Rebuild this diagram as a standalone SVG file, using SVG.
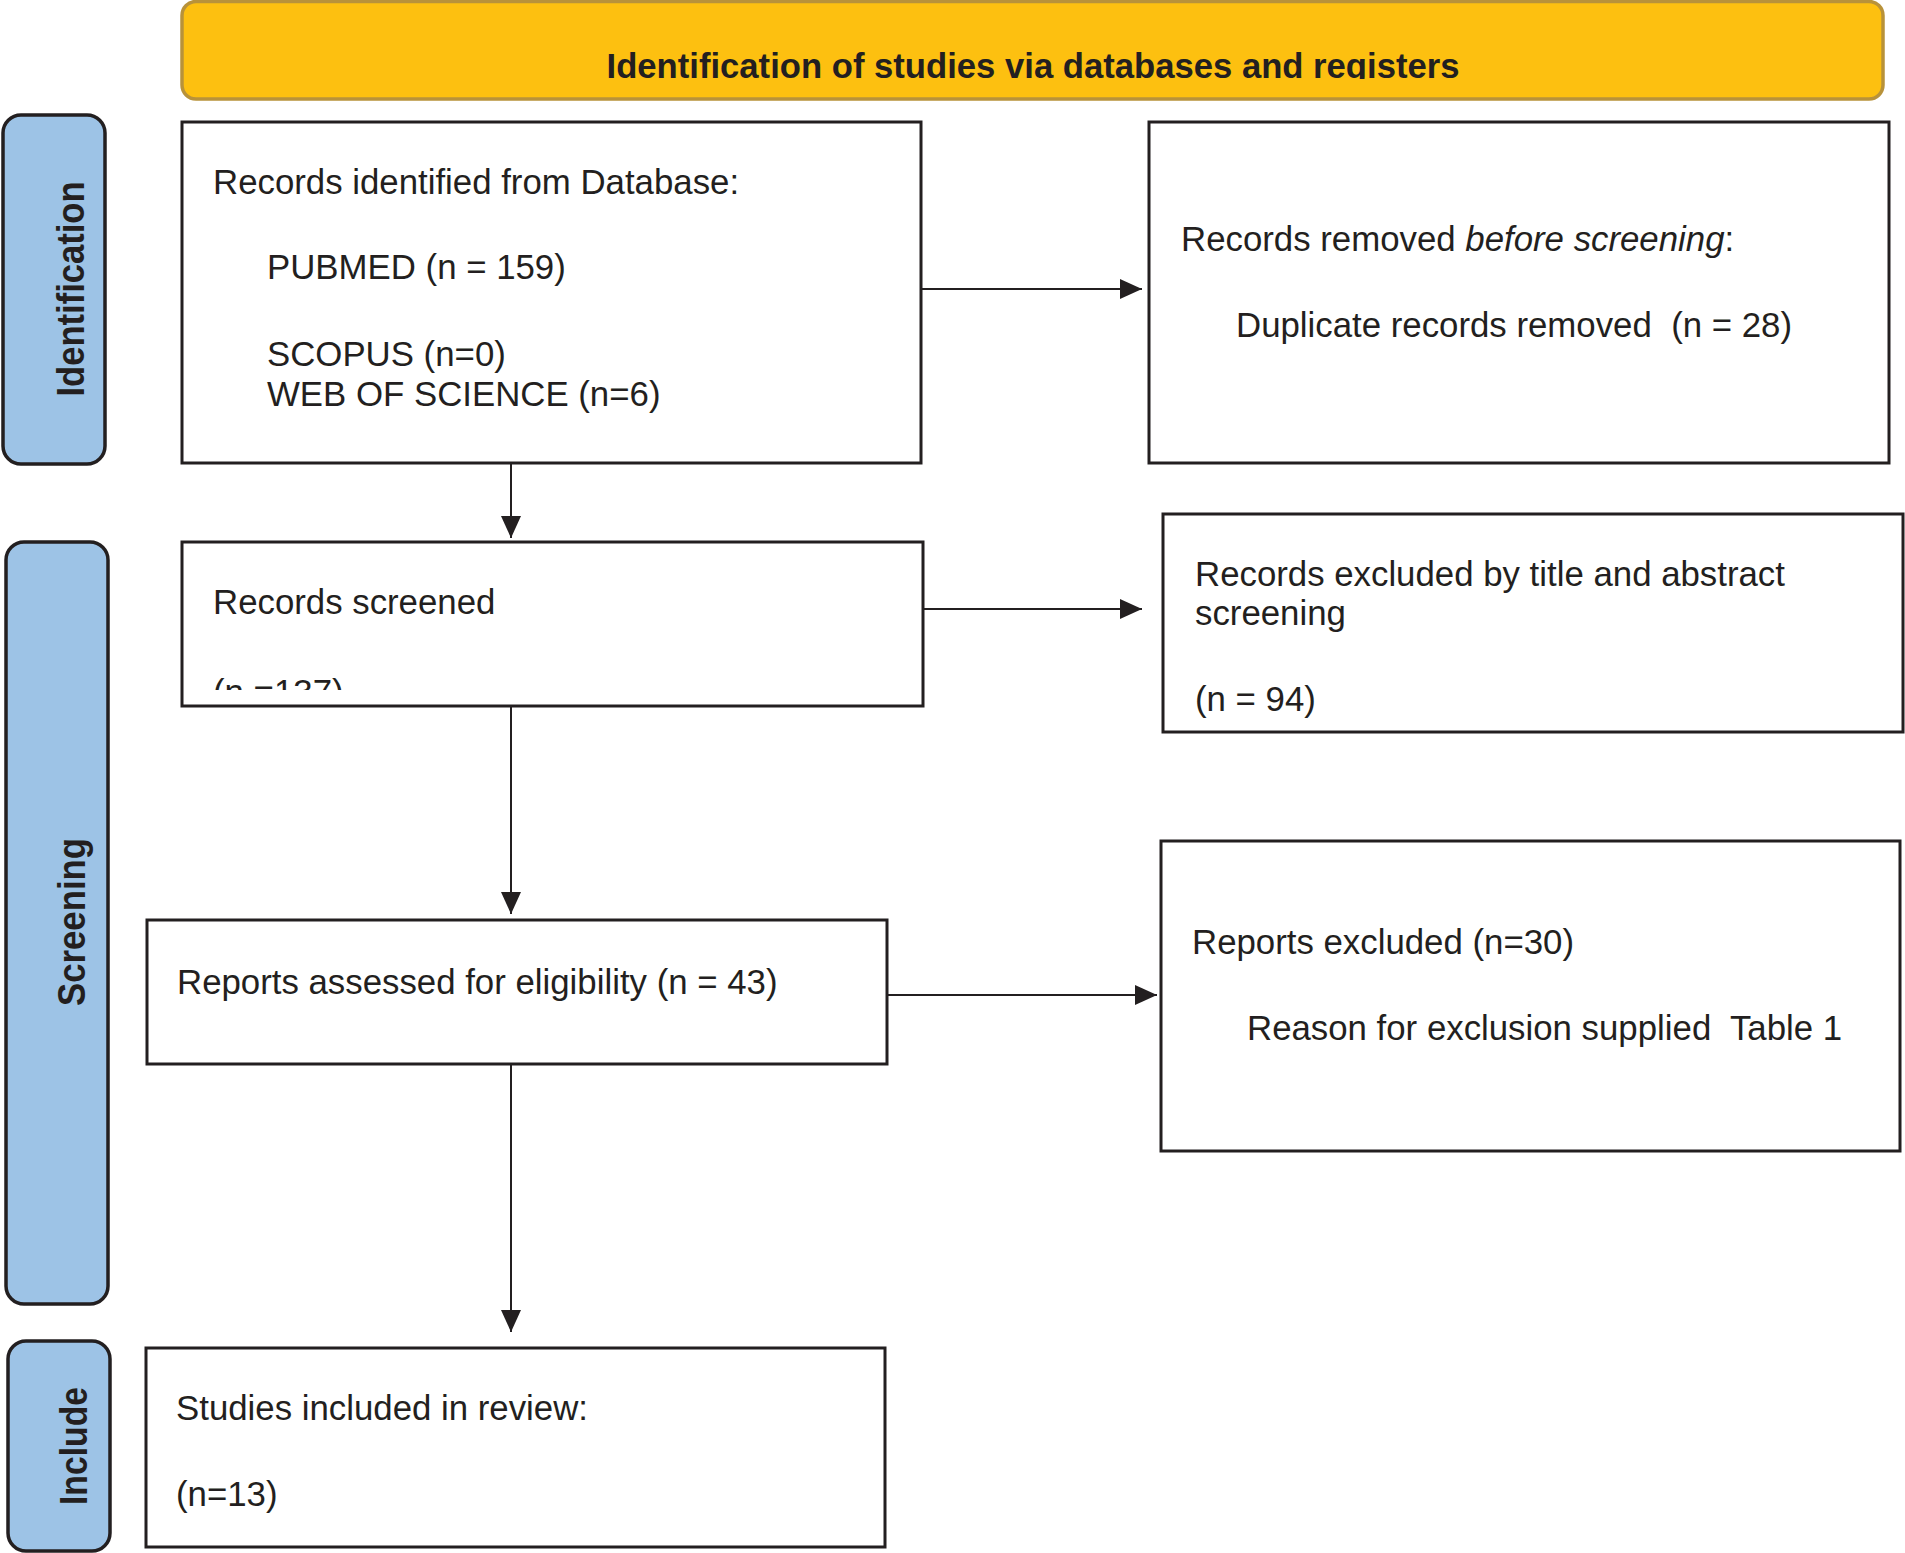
<svg xmlns="http://www.w3.org/2000/svg" width="1905" height="1553" viewBox="0 0 1905 1553">
<style>
.box{fill:#fff;stroke:#231f20;stroke-width:3}
.side{fill:#9dc3e6;stroke:#231f20;stroke-width:3.5}
.t{font-family:"Liberation Sans",Arial,sans-serif;font-size:34.8px;fill:#231f20}
.st{font-family:"Liberation Sans",Arial,sans-serif;font-size:39px;font-weight:bold;fill:#231f20}
.conn{stroke:#231f20;stroke-width:2;fill:none}
</style>
<defs>
<marker id="ah" markerUnits="userSpaceOnUse" markerWidth="24" markerHeight="22" refX="22" refY="10" orient="auto">
<path d="M0,0 L22,10 L0,20 z" fill="#231f20"/>
</marker>
<clipPath id="clipTitle"><rect x="0" y="0" width="1905" height="79"/></clipPath>
<clipPath id="clipScr"><rect x="0" y="540" width="1905" height="150"/></clipPath>
</defs>
<rect width="1905" height="1553" fill="#fff"/>

<g id="banner">
<rect x="182" y="1.5" width="1701" height="97.5" rx="14" fill="#fdc010" stroke="#b8923a" stroke-width="3.5"/>
<text x="1033" y="78" text-anchor="middle" clip-path="url(#clipTitle)" font-family="'Liberation Sans',Arial,sans-serif" font-size="34.5" font-weight="bold" fill="#231f20" textLength="853" lengthAdjust="spacingAndGlyphs">Identification of studies via databases and registers</text>
</g>

<g id="side-identification">
<rect class="side" x="3" y="115" width="102" height="349" rx="18"/>
<text class="st" transform="translate(84,289) rotate(-90)" text-anchor="middle" textLength="215" lengthAdjust="spacingAndGlyphs">Identification</text>
</g>
<g id="side-screening">
<rect class="side" x="6" y="542" width="102" height="762" rx="18"/>
<text class="st" transform="translate(85,922) rotate(-90)" text-anchor="middle" textLength="168" lengthAdjust="spacingAndGlyphs">Screening</text>
</g>
<g id="side-include">
<rect class="side" x="8" y="1341" width="102" height="210" rx="18"/>
<text class="st" transform="translate(87,1446) rotate(-90)" text-anchor="middle" textLength="118" lengthAdjust="spacingAndGlyphs">Include</text>
</g>

<g id="connectors">
<line class="conn" x1="921" y1="289" x2="1142" y2="289" marker-end="url(#ah)"/>
<line class="conn" x1="511" y1="463" x2="511" y2="538" marker-end="url(#ah)"/>
<line class="conn" x1="923" y1="609" x2="1142" y2="609" marker-end="url(#ah)"/>
<line class="conn" x1="511" y1="706" x2="511" y2="914" marker-end="url(#ah)"/>
<line class="conn" x1="887" y1="995" x2="1157" y2="995" marker-end="url(#ah)"/>
<line class="conn" x1="511" y1="1064" x2="511" y2="1332" marker-end="url(#ah)"/>
</g>

<g id="records-identified">
<rect class="box" x="182" y="122" width="739" height="341"/>
<text class="t" x="213" y="194">Records identified from Database:</text>
<text class="t" x="267" y="279">PUBMED (n = 159)</text>
<text class="t" x="267" y="366">SCOPUS (n=0)</text>
<text class="t" x="267" y="406">WEB OF SCIENCE (n=6)</text>
</g>

<g id="records-removed">
<rect class="box" x="1149" y="122" width="740" height="341"/>
<text class="t" x="1181" y="251">Records removed <tspan font-style="italic">before screening</tspan>:</text>
<text class="t" x="1236" y="337" xml:space="preserve">Duplicate records removed  (n = 28)</text>
</g>

<g id="records-screened">
<rect class="box" x="182" y="542" width="741" height="164"/>
<text class="t" x="213" y="614">Records screened</text>
<text class="t" x="213" y="704" clip-path="url(#clipScr)">(n =137)</text>
</g>

<g id="records-excluded">
<rect class="box" x="1163" y="514" width="740" height="218"/>
<text class="t" x="1195" y="586">Records excluded by title and abstract</text>
<text class="t" x="1195" y="625">screening</text>
<text class="t" x="1195" y="711">(n = 94)</text>
</g>

<g id="reports-assessed">
<rect class="box" x="147" y="920" width="740" height="144"/>
<text class="t" x="177" y="994">Reports assessed for eligibility (n = 43)</text>
</g>

<g id="reports-excluded">
<rect class="box" x="1161" y="841" width="739" height="310"/>
<text class="t" x="1192" y="954">Reports excluded (n=30)</text>
<text class="t" x="1247" y="1040" xml:space="preserve">Reason for exclusion supplied  Table 1</text>
</g>

<g id="studies-included">
<rect class="box" x="146" y="1348" width="739" height="199"/>
<text class="t" x="176" y="1420">Studies included in review:</text>
<text class="t" x="176" y="1506">(n=13)</text>
</g>
</svg>
